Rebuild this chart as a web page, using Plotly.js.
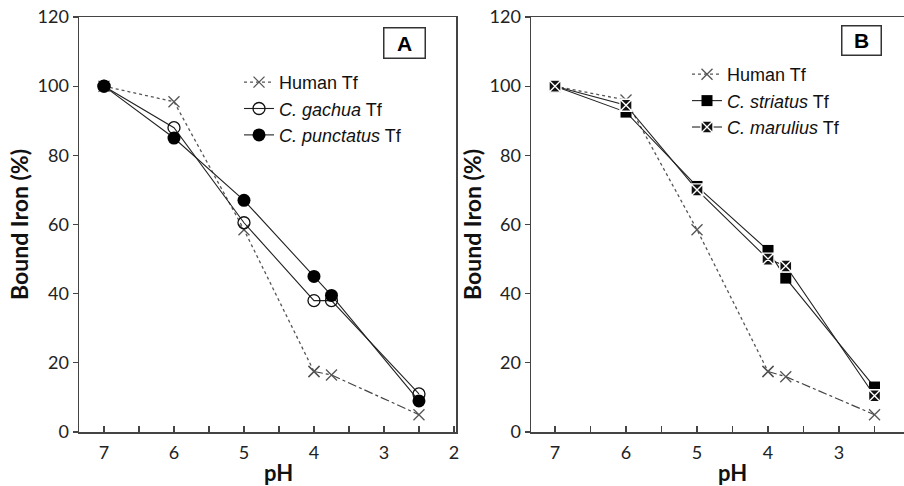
<!DOCTYPE html>
<html>
<head>
<meta charset="utf-8">
<script src="https://cdn.plot.ly/plotly-3.0.1.min.js"></script>
<style>html,body{margin:0;padding:0;background:#fff;}#chart{width:904px;height:486px;}</style>
</head>
<body>
<div id="chart"></div>
<script>
// ---- Data ----
const pH = [7, 6, 5, 4, 3.75, 2.5];
// Panel A
const humanA = [100, 95.5, 58.5, 17.5, 16.5, 5];
const gachuaA = [100, 88, 60.5, 38, 38, 11];
const punctatusA = [100, 85, 67, 45, 39.5, 9];
// Panel B
const humanB = [100, 96, 58.5, 17.5, 16, 5];
const striatusB = [100, 92.5, 71, 52.5, 44.5, 13];
const maruliusB = [100, 94.5, 70, 50, 48, 10.5];
// Labels
const xTickVals = [7, 6, 5, 4, 3, 2];
const yTickVals = [0, 20, 40, 60, 80, 100, 120];
const names = {
  human: 'Human Tf',
  gachua: '<i>C. gachua</i> Tf',
  punctatus: '<i>C. punctatus</i> Tf',
  striatus: '<i>C. striatus</i> Tf',
  marulius: '<i>C. marulius</i> Tf'
};
const panelLabels = ['A', 'B'];

// Human lines: dotted up to pH 4, dash-dot afterwards
const split = 3;
function humanTraces(y, xa, ya, leg) {
  const mk = {symbol: 'x-thin-open', size: 11, line: {color: '#555', width: 1.3}, color: '#555'};
  return [
    {x: pH.slice(0, split + 1), y: y.slice(0, split + 1), xaxis: xa, yaxis: ya, legend: leg,
     mode: 'lines+markers', name: names.human, line: {color: '#555', width: 1.3, dash: 'dot'}, marker: mk},
    {x: pH.slice(split), y: y.slice(split), xaxis: xa, yaxis: ya, legend: leg, showlegend: false,
     mode: 'lines+markers', name: names.human, line: {color: '#444', width: 1.2, dash: 'dashdot'}, marker: mk}
  ];
}

const traces = [].concat(
  humanTraces(humanA, 'x', 'y', 'legend'),
  [
    {x: pH, y: gachuaA, mode: 'lines+markers', name: names.gachua, xaxis: 'x', yaxis: 'y', legend: 'legend',
     line: {color: '#222', width: 1.1}, marker: {symbol: 'circle-open', size: 12, color: '#111', line: {width: 1.3}}},
    {x: pH, y: punctatusA, mode: 'lines+markers', name: names.punctatus, xaxis: 'x', yaxis: 'y', legend: 'legend',
     line: {color: '#222', width: 1.1}, marker: {symbol: 'circle', size: 13, color: '#000'}}
  ],
  humanTraces(humanB, 'x2', 'y2', 'legend2'),
  [
    {x: pH, y: striatusB, mode: 'lines+markers', name: names.striatus, xaxis: 'x2', yaxis: 'y2', legend: 'legend2',
     line: {color: '#222', width: 1.1}, marker: {symbol: 'square', size: 11, color: '#000'}},
    {x: pH, y: maruliusB, mode: 'lines+markers', name: names.marulius, xaxis: 'x2', yaxis: 'y2', legend: 'legend2',
     line: {color: '#222', width: 1.1}, marker: {symbol: 'square-x', size: 12, color: '#111', line: {color: '#fff', width: 1.4}}}
  ]
);

const tickFont = {family: 'Lato, "Open Sans", sans-serif', size: 18, color: '#222'};
const titleFont = {family: 'Lato, "Open Sans", sans-serif', size: 23, color: '#111', weight: 'bold'};
const legendFont = {family: '"Liberation Sans", Arial, sans-serif', size: 18, color: '#111'};
const W = 904;

function xAxis(domain, range) {
  return {
    domain: domain, range: range, showgrid: false, zeroline: false,
    showline: true, linecolor: '#444', linewidth: 1.5, mirror: true,
    tickmode: 'array', tickvals: xTickVals, ticktext: xTickVals.map(String),
    ticks: 'inside', ticklen: 6, tickcolor: '#444', tickwidth: 1.3,
    minor: {dtick: 0.5, tick0: 0, ticks: 'inside', ticklen: 6, tickcolor: '#444', tickwidth: 1.3, showgrid: false},
    tickfont: tickFont, ticklabelstandoff: 4
  };
}
function yAxis(anchor, standoff, mirror) {
  return {
    anchor: anchor, domain: [0, 1], range: [0, 120], showgrid: false, zeroline: false,
    showline: true, linecolor: '#444', linewidth: 1.5, mirror: mirror,
    tickmode: 'array', tickvals: yTickVals, ticks: 'outside', ticklen: 5, tickcolor: '#444', tickwidth: 1.3,
    tickfont: tickFont,
    title: {text: 'Bound Iron (%)', font: titleFont, standoff: standoff}
  };
}

const boxFont = {family: '"Liberation Sans", Arial, sans-serif', size: 21, color: '#000'};
const pHFont = {family: 'Lato, sans-serif', size: 22, color: '#111'};

const layout = {
  width: 904, height: 486,
  margin: {l: 0, r: 0, t: 17, b: 54},
  paper_bgcolor: '#fff', plot_bgcolor: '#fff',
  xaxis: Object.assign(xAxis([79 / W, 456 / W], [7.357, 1.971]), {anchor: 'y'}),
  yaxis: yAxis('x', 2, true),
  xaxis2: Object.assign(xAxis([531 / W, 1], [7.338, 2.085]), {anchor: 'y2'}),
  yaxis2: yAxis('x2', 1, false),
  legend: {x: 239 / W, xanchor: 'left', y: 0.887, yanchor: 'top', bgcolor: 'rgba(0,0,0,0)',
    font: legendFont, tracegroupgap: 0},
  legend2: {x: 687 / W, xanchor: 'left', y: 0.906, yanchor: 'top', bgcolor: 'rgba(0,0,0,0)',
    font: legendFont, tracegroupgap: 0},
  showlegend: true,
  annotations: [
    {xref: 'x', yref: 'paper', x: 4.5, y: -0.098, xanchor: 'center', yanchor: 'middle', text: '<b>pH</b>', showarrow: false, font: pHFont},
    {xref: 'x2', yref: 'paper', x: 4.5, y: -0.098, xanchor: 'center', yanchor: 'middle', text: '<b>pH</b>', showarrow: false, font: pHFont},
    {xref: 'paper', yref: 'paper', x: 404 / W, y: (432 - 42.5) / 415, xanchor: 'center', yanchor: 'middle',
     text: '<b>' + panelLabels[0] + '</b>', showarrow: false,
     width: 38, height: 27, bordercolor: '#333', borderwidth: 1.5, bgcolor: '#fff', font: boxFont},
    {xref: 'paper', yref: 'paper', x: 861 / W, y: (432 - 40) / 415, xanchor: 'center', yanchor: 'middle',
     text: '<b>' + panelLabels[1] + '</b>', showarrow: false,
     width: 36, height: 26, bordercolor: '#333', borderwidth: 1.5, bgcolor: '#fff', font: boxFont}
  ]
};

Plotly.newPlot('chart', traces, layout, {displayModeBar: false, staticPlot: true});
</script>
</body>
</html>
